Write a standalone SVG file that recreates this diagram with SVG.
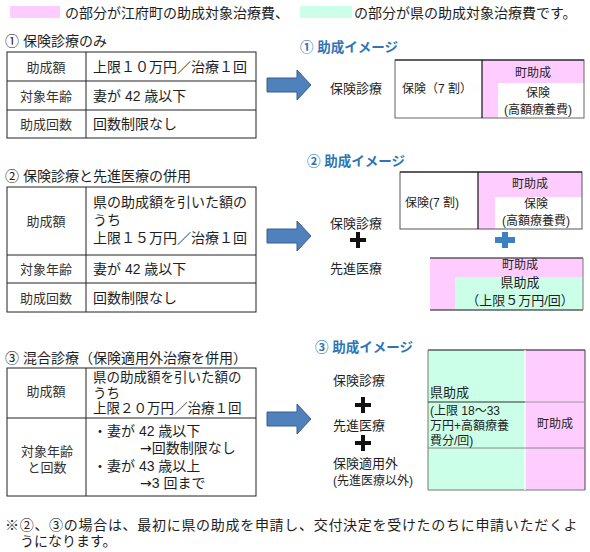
<svg xmlns="http://www.w3.org/2000/svg" width="590" height="552" viewBox="0 0 590 552">
<style>
text{font-family:"Liberation Sans","Noto Sans CJK JP","Noto Sans CJK SC",sans-serif;fill:#1e1e1e}
.t14{font-size:14px}
.t135{font-size:13.5px}
.t13{font-size:13px}
.t12{font-size:12px}
.lab{font-size:13px;fill:#333}
.mid{text-anchor:middle}
.ar{font-family:"DejaVu Sans","Noto Sans CJK JP",sans-serif}
.blue{font-size:13.5px;fill:#2E75B6;font-weight:bold}
.tb{fill:none;stroke:#222;stroke-width:1}
.pink{fill:#FFCCFF}
.teal{fill:#CCFFE8}
.blk{stroke:#111;stroke-width:1.2}
.gry{stroke:#777;stroke-width:1}
.plus{fill:#111}
.bplus{fill:#3B82C4}
.arrow{fill:#4F81BD;stroke:#3A5F8E;stroke-width:1}
</style>
<defs>
<path id="arr" d="M267,-7 H297 V-15 L311,0 L297,15 V7 H267 Z"/>
</defs>

<g id="legend">
<rect x="10" y="6" width="50" height="12" class="pink"/>
<text x="65" y="18" class="t14">の部分が江府町の助成対象治療費、</text>
<rect x="300" y="6" width="52" height="12" class="teal"/>
<text x="354" y="18" class="t14">の部分が県の助成対象治療費です。</text>
</g>

<g id="table1">
<text x="5" y="46" class="t14">① 保険診療のみ</text>
<rect x="7" y="52" width="249" height="86" class="tb"/>
<line x1="86" y1="52" x2="86" y2="138" class="tb"/>
<line x1="7" y1="81" x2="256" y2="81" class="tb"/>
<line x1="7" y1="110" x2="256" y2="110" class="tb"/>
<text x="46" y="72" class="lab mid">助成額</text>
<text x="93" y="72" class="t14">上限１０万円／治療１回</text>
<text x="46" y="101" class="lab mid">対象年齢</text>
<text x="93" y="101" class="t14">妻が 42 歳以下</text>
<text x="46" y="129" class="lab mid">助成回数</text>
<text x="93" y="129" class="t14">回数制限なし</text>
</g>

<g id="image1">
<text x="300" y="52" class="blue">① 助成イメージ</text>
<text x="330" y="93" class="t13">保険診療</text>
<rect x="482" y="60" width="102" height="58" class="pink"/>
<rect x="498" y="83" width="86" height="35" fill="#fff"/>
<rect x="395" y="60" width="189" height="58" fill="none" stroke="#666"/>
<line x1="395" y1="60" x2="584" y2="60" class="blk"/>
<line x1="482" y1="60" x2="482" y2="118" class="blk"/>
<text x="402" y="93" class="t12">保険（7 割）</text>
<text x="533" y="77" class="t12 mid">町助成</text>
<text class="t12 mid"><tspan x="538" y="97">保険</tspan><tspan x="538" y="114">(高額療養費)</tspan></text>
</g>

<g id="table2">
<text x="5" y="181" class="t14">② 保険診療と先進医療の併用</text>
<rect x="7" y="187" width="249" height="125" class="tb"/>
<line x1="86" y1="187" x2="86" y2="312" class="tb"/>
<line x1="7" y1="255" x2="256" y2="255" class="tb"/>
<line x1="7" y1="283" x2="256" y2="283" class="tb"/>
<text x="46" y="226" class="lab mid">助成額</text>
<text class="t14"><tspan x="93" y="207">県の助成額を引いた額の</tspan><tspan x="93" y="225">うち</tspan><tspan x="93" y="243">上限１５万円／治療１回</tspan></text>
<text x="46" y="274" class="lab mid">対象年齢</text>
<text x="93" y="274" class="t14">妻が 42 歳以下</text>
<text x="46" y="303" class="lab mid">助成回数</text>
<text x="93" y="303" class="t14">回数制限なし</text>
</g>

<g id="image2">
<text x="307" y="166" class="blue">② 助成イメージ</text>
<text x="330" y="228" class="t13">保険診療</text>
<rect x="350" y="238" width="16" height="4" class="plus"/>
<rect x="356" y="232" width="4" height="16" class="plus"/>
<text x="330" y="273" class="t13">先進医療</text>
<rect x="478" y="172" width="104" height="57" class="pink"/>
<rect x="495" y="197" width="87" height="32" fill="#fff"/>
<rect x="400" y="172" width="182" height="57" fill="none" stroke="#555"/>
<line x1="400" y1="172" x2="582" y2="172" class="blk"/>
<line x1="478" y1="172" x2="478" y2="229" class="blk"/>
<text x="405" y="207" class="t12">保険(7 割)</text>
<text x="530" y="188" class="t12 mid">町助成</text>
<text class="t12 mid"><tspan x="536" y="208">保険</tspan><tspan x="536" y="225">(高額療養費)</tspan></text>
<rect x="495" y="237" width="20" height="6" class="bplus"/>
<rect x="502" y="232" width="6" height="16" class="bplus"/>
<rect x="430" y="258" width="153" height="52" class="pink"/>
<rect x="455" y="277" width="128" height="33" class="teal"/>
<line x1="430" y1="258" x2="583" y2="258" class="blk"/>
<line x1="430" y1="310" x2="583" y2="310" class="blk"/>
<line x1="583" y1="258" x2="583" y2="310" class="gry"/>
<text class="mid"><tspan x="520" y="269" class="t12">町助成</tspan><tspan x="520" y="287" class="t13">県助成</tspan><tspan x="520" y="305" class="t13">（上限５万円/回）</tspan></text>
</g>

<g id="table3">
<text x="5" y="363" class="t14">③ 混合診療（保険適用外治療を併用）</text>
<rect x="7" y="368" width="249" height="128" class="tb"/>
<line x1="86" y1="368" x2="86" y2="496" class="tb"/>
<line x1="7" y1="418" x2="256" y2="418" class="tb"/>
<text x="46" y="396" class="lab mid">助成額</text>
<text class="t135"><tspan x="93" y="382">県の助成額を引いた額の</tspan><tspan x="93" y="397.5">うち</tspan><tspan x="93" y="413">上限２０万円／治療１回</tspan></text>
<text class="lab mid"><tspan x="47" y="456">対象年齢</tspan><tspan x="47" y="472">と回数</tspan></text>
<text class="t14"><tspan x="93" y="436">・妻が 42 歳以下</tspan><tspan x="140" y="453" class="ar">→</tspan><tspan>回数制限なし</tspan><tspan x="93" y="471">・妻が 43 歳以上</tspan><tspan x="140" y="488" class="ar">→</tspan><tspan>3 回まで</tspan></text>
</g>

<g id="image3">
<text x="315" y="352" class="blue">③ 助成イメージ</text>
<text x="333" y="385" class="t13">保険診療</text>
<rect x="355" y="403" width="16" height="4" class="plus"/>
<rect x="361" y="397" width="4" height="16" class="plus"/>
<text x="333" y="430" class="t13">先進医療</text>
<rect x="355" y="441" width="16" height="4" class="plus"/>
<rect x="361" y="435" width="4" height="16" class="plus"/>
<text><tspan x="333" y="468" class="t13">保険適用外</tspan><tspan x="333" y="485" class="t12">(先進医療以外)</tspan></text>
<rect x="428" y="350" width="97" height="140" class="teal"/>
<rect x="525" y="350" width="60" height="140" class="pink"/>
<line x1="428" y1="350" x2="585" y2="350" class="blk"/>
<line x1="428" y1="350" x2="428" y2="490" class="gry"/>
<line x1="585" y1="350" x2="585" y2="490" stroke="#444"/>
<line x1="428" y1="490" x2="585" y2="490" class="gry"/>
<line x1="525" y1="350" x2="525" y2="490" stroke="#fff" stroke-width="1.2"/>
<line x1="428" y1="402" x2="525" y2="402" stroke="#333" stroke-width="1.2"/>
<line x1="525" y1="402" x2="585" y2="402" stroke="#999"/>
<line x1="428" y1="448" x2="585" y2="448" stroke="#888"/>
<text><tspan x="430" y="397" class="t13">県助成</tspan><tspan x="430" y="415" class="t12">(上限 18～33</tspan><tspan x="430" y="430" class="t12">万円+高額療養</tspan><tspan x="430" y="445" class="t12">費分/回)</tspan></text>
<text x="555" y="428" class="t12 mid">町助成</text>
</g>

<g id="connectors">
<use href="#arr" class="arrow" transform="translate(0,85)"/>
<use href="#arr" class="arrow" transform="translate(0,236)"/>
<use href="#arr" class="arrow" transform="translate(0,419)"/>
</g>

<g id="footnote">
<text class="t14"><tspan x="5" y="530" letter-spacing="0.7">※②、③の場合は、最初に県の助成を申請し、交付決定を受けたのちに申請いただくよ</tspan><tspan x="20" y="546">うになります。</tspan></text>
</g>
</svg>
